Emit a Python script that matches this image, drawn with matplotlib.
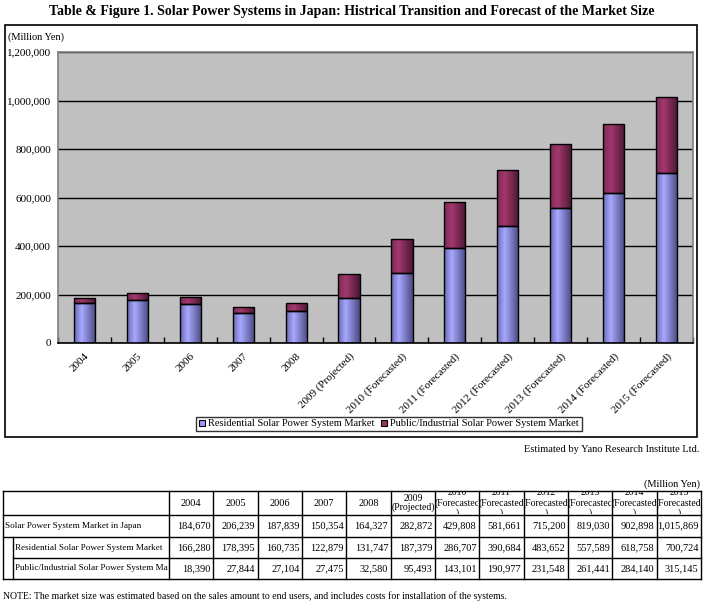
import numpy as np
import matplotlib
matplotlib.use("Agg")
import matplotlib.pyplot as plt
from matplotlib.colors import LinearSegmentedColormap
from matplotlib.patches import Patch, Rectangle
from matplotlib.ticker import FuncFormatter, MultipleLocator
from matplotlib.transforms import Bbox, TransformedBbox

plt.rcParams['font.family'] = ['Liberation Serif', 'DejaVu Serif']

# ---------------- data ----------------
years = ["2004", "2005", "2006", "2007", "2008", "2009", "2010", "2011", "2012", "2013", "2014", "2015"]
suffix = ["", "", "", "", "", "(Projected)", "(Forecasted)", "(Forecasted)", "(Forecasted)",
          "(Forecasted)", "(Forecasted)", "(Forecasted)"]
total = [184670, 206239, 187839, 150354, 164327, 282872, 429808, 581661, 715200, 819030, 902898, 1015869]
residential = [166280, 178395, 160735, 122879, 131747, 187379, 286707, 390684, 483652, 557589, 618758, 700724]
public = [18390, 27844, 27104, 27475, 32580, 95493, 143101, 190977, 231548, 261441, 284140, 315145]
series_names = ["Residential Solar Power System Market", "Public/Industrial Solar Power System Market"]
row_labels = ["Solar Power System Market in Japan", "Residential Solar Power System Market",
              "Public/Industrial Solar Power System Market"]

W, H = 703, 602
fig = plt.figure(figsize=(W / 100, H / 100), dpi=100)

# overlay axes in pixel coordinates for frame, title and table
ov = fig.add_axes([0, 0, 1, 1], zorder=0)
ov.set_xlim(0, W)
ov.set_ylim(H, 0)
ov.axis('off')

ov.text(352, 12, "Table & Figure 1. Solar Power Systems in Japan: Histrical Transition and Forecast of the Market Size",
        ha='center', va='center', fontsize=10, fontweight='bold')
ov.add_patch(Rectangle((5, 25), 692, 412, facecolor='white', edgecolor='black', lw=1.2))
ov.text(8, 37, "(Million Yen)", ha='left', va='center', fontsize=7.5)
ov.text(700, 450, "Estimated by Yano Research Institute Ltd.", ha='right', va='center', fontsize=7.5)

# ---------------- chart ----------------
ax = fig.add_axes([58 / W, 1 - 343 / H, (693 - 58) / W, (343 - 52) / H], zorder=2)
ax.set_facecolor('#C0C0C0')
x = np.arange(len(years))
labels = [y if s == "" else f"{y} {s}" for y, s in zip(years, suffix)]
bw = 0.4

b1 = ax.bar(x, residential, bw, facecolor='none', edgecolor='black', lw=1.0, zorder=3)
b2 = ax.bar(x, public, bw, bottom=residential, facecolor='none', edgecolor='black', lw=1.0, zorder=3)

def shade(bars, stops):
    cmap = LinearSegmentedColormap.from_list('g', stops)
    grad = np.linspace(0, 1, 64).reshape(1, -1)
    for b in bars:
        bx, by, bwid, bh = b.get_x(), b.get_y(), b.get_width(), b.get_height()
        im = ax.imshow(grad, cmap=cmap, extent=[bx, bx + bwid, by, by + bh], aspect='auto',
                       interpolation='bilinear', zorder=2.5)
        im.set_clip_path(b)

shade(b1, [(0, '#6A6AB2'), (0.35, '#A8A8FF'), (1, '#4A4A82')])
shade(b2, [(0, '#7A2A55'), (0.35, '#A3386E'), (1, '#4A1833')])

ax.set_xlim(-0.5, len(years) - 0.5)
ax.set_ylim(0, 1200000)
ax.set_aspect('auto')
ax.yaxis.set_major_locator(MultipleLocator(200000))
ax.yaxis.set_major_formatter(FuncFormatter(lambda v, p: f"{int(v):,}"))
ax.set_axisbelow(True)
ax.grid(axis='y', color='black', lw=1.0, zorder=0.5)
ax.tick_params(axis='y', length=0, pad=5, labelsize=8)
ax.set_xticks(x)
ax.set_xticklabels(labels, fontsize=8, rotation=45, ha='right', rotation_mode='anchor')
ax.tick_params(axis='x', which='major', length=0, pad=6)
ax.set_xticks(np.arange(-0.5, len(years) - 0.4, 1), minor=True)
ax.tick_params(axis='x', which='minor', direction='in', length=4, color='black', width=1)
for s in ['top', 'left', 'right']:
    ax.spines[s].set_color('#808080')
    ax.spines[s].set_linewidth(1.2)
ax.spines['bottom'].set_color('black')
ax.spines['bottom'].set_linewidth(1.2)

handles = [Patch(facecolor='#9999FF', edgecolor='black', lw=0.8),
           Patch(facecolor='#993366', edgecolor='black', lw=0.8)]
leg = fig.legend(handles, series_names, loc='center', bbox_to_anchor=(389 / W, 1 - 424 / H), ncol=2,
                 fontsize=7.5, frameon=True, fancybox=False, edgecolor='black', handlelength=0.6,
                 handleheight=0.6, handletextpad=0.3, columnspacing=0.6, borderpad=0.25,
                 borderaxespad=0)
leg.get_frame().set_linewidth(1.0)
leg.set_zorder(5)

# ---------------- table ----------------
ov2 = fig.add_axes([0, 0, 1, 1], zorder=3)
ov2.set_xlim(0, W)
ov2.set_ylim(H, 0)
ov2.axis('off')
ov2.patch.set_alpha(0)

def cbox(x0_, y0_, x1_, y1_):
    # pixel box (top-left origin) -> display-space clip box
    return TransformedBbox(Bbox.from_extents(x0_ / W, 1 - y1_ / H, x1_ / W, 1 - y0_ / H), fig.transFigure)

ov2.text(700, 484, "(Million Yen)", ha='right', va='center', fontsize=7.5)
rows_y = [491, 515, 537, 558, 579]
x0, xind, xc0, xc1 = 3, 13, 169, 701
cw = (xc1 - xc0) / len(years)
lw = 1.0
for i, yy in enumerate(rows_y):
    xs = xind if i == 3 else x0
    ov2.plot([xs, xc1], [yy, yy], color='black', lw=lw)
ov2.plot([x0, x0], [491, 579], color='black', lw=lw)
ov2.plot([xind, xind], [537, 579], color='black', lw=lw)
for j in range(len(years) + 1):
    xx = xc0 + j * cw
    ov2.plot([xx, xx], [491, 579], color='black', lw=lw)

fs = 7.5
for j, (yr, sf) in enumerate(zip(years, suffix)):
    cx = xc0 + (j + 0.5) * cw
    if sf == "":
        t = ov2.text(cx, 503, yr, ha='center', va='center', fontsize=fs)
    elif j == 5:
        t = ov2.text(cx, 503, f"{yr}\n{sf}", ha='center', va='center', fontsize=7, linespacing=1.0)
    else:
        t = ov2.text(cx, 503, f"{yr}\n{sf[:-1]}\n)", ha='center', va='center', fontsize=7, linespacing=1.1)
    t.set_clip_box(cbox(xc0 + j * cw + 1, 492, xc0 + (j + 1) * cw - 1, 514))
    t.set_clip_on(True)

row_centers = [526, 547.5, 568.5]
row_x = [5, 15, 15]
for r, (lab, vals) in enumerate(zip(row_labels, [total, residential, public])):
    t = ov2.text(row_x[r], row_centers[r], lab, ha='left', va='center', fontsize=6.6)
    t.set_clip_box(cbox(row_x[r] - 2, row_centers[r] - 11, xc0 - 1, row_centers[r] + 11))
    t.set_clip_on(True)
    for j, v in enumerate(vals):
        ov2.text(xc0 + (j + 1) * cw - 2.5, row_centers[r], f"{v:,}", ha='right', va='center', fontsize=fs)

ov2.text(3, 596, "NOTE: The market size was estimated based on the sales amount to end users, and includes costs for installation of the systems.",
         ha='left', va='center', fontsize=7)

fig.savefig("out.png", dpi=100)
